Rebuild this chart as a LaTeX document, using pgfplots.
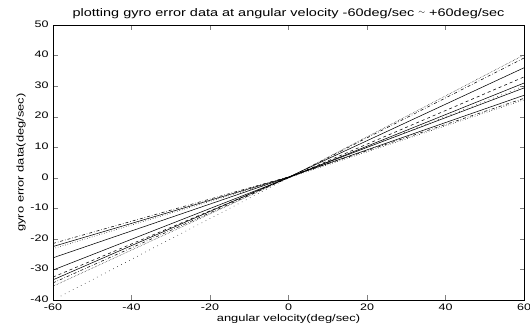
\documentclass[border=0pt]{standalone}
\usepackage{pgfplots}
\pgfplotsset{compat=1.18}
\usepackage{fontspec}
\setmainfont{Liberation Sans}[FakeStretch=1.32]
\usetikzlibrary{calc}
\begin{document}
\begin{tikzpicture}
\begin{axis}[
  scale only axis,
  width=471bp, height=275bp,
  xmin=-60, xmax=60, ymin=-40, ymax=50,
  xtick={-60,-40,...,60}, ytick={-40,-30,...,50},
  tick align=inside, major tick length=4.5bp,
  tick pos=both,
  axis line style={line width=0.7pt},
  /pgf/number format/assume math mode=true,
  tick label style={font=\fontsize{9.5}{10}\selectfont},
  label style={font=\fontsize{9.8}{10}\selectfont},
  title style={font=\fontsize{11}{12}\selectfont, yshift=-3bp},
  title={plotting gyro error data at angular velocity -60deg/sec \raisebox{0.3ex}{\scalebox{0.8}{$\sim$}} +60deg/sec},
  xlabel={angular velocity(deg/sec)},
  ylabel={gyro error data(deg/sec)},
  xticklabel style={yshift=0bp},
  yticklabel style={xshift=-1bp, yshift=1bp},
  xlabel style={yshift=2.5bp},
  ylabel style={yshift=-2bp},
  cycle list={{black}},
  every axis plot/.append style={black, line width=0.55pt},
]
\addplot[dash dot] coordinates {(-60,-21.5) (0,0.3) (60,26)};
\addplot coordinates {(-60,-22.5) (0,0.2) (60,27)};
\addplot[dotted] coordinates {(-60,-23.2) (0,0) (60,25.5)};
\addplot coordinates {(-60,-26.2) (0,0.2) (60,29.4)};
\addplot coordinates {(-60,-30.2) (0,0) (60,31)};
\addplot[dashed] coordinates {(-60,-32.5) (0,0) (60,33)};
\addplot coordinates {(-60,-33.4) (0,0.2) (60,36)};
\addplot[dash dot] coordinates {(-60,-34.4) (0,0) (60,39.2)};
\addplot[densely dotted, line width=0.4pt] coordinates {(-60,-35.5) (0,0) (60,40.2)};
\addplot[loosely dotted] coordinates {(-58,-38.7) (0,0) (60,30)};
\end{axis}
\pgfresetboundingbox
\path[use as bounding box] ($(current axis.south west)+(-53bp,-32bp)$) rectangle ($(current axis.north east)+(6bp,25bp)$);
\end{tikzpicture}
\end{document}
